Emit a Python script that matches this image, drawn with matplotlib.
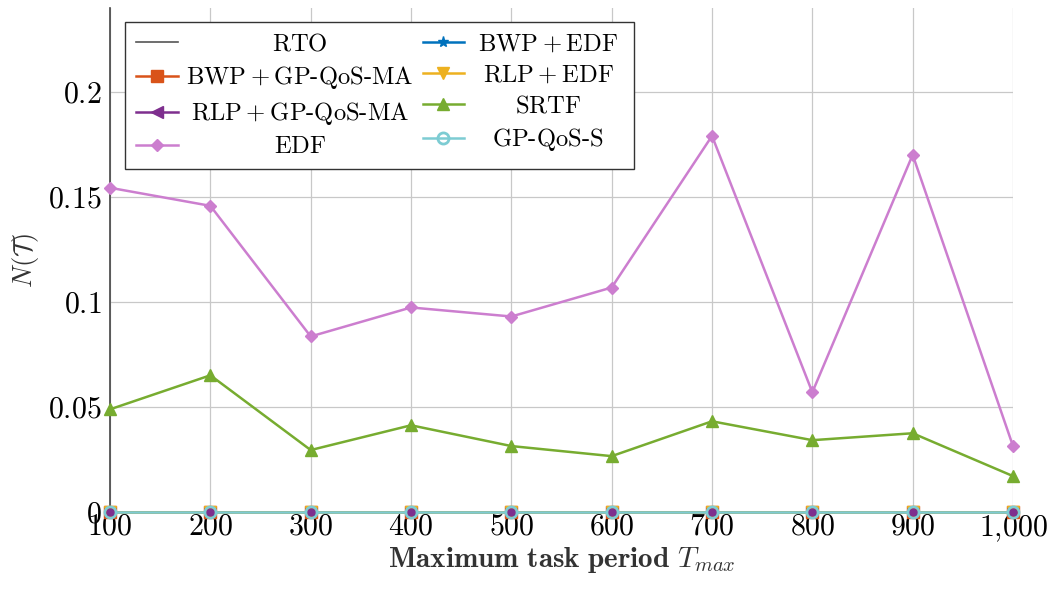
import matplotlib
matplotlib.use('Agg')
import matplotlib.pyplot as plt
from matplotlib.offsetbox import VPacker

plt.rcParams['font.family'] = 'serif'
plt.rcParams['font.serif'] = ['cmr10']
plt.rcParams['mathtext.fontset'] = 'cm'
plt.rcParams['axes.formatter.use_mathtext'] = True

# maximum task period
periods = [100, 200, 300, 400, 500, 600, 700, 800, 900, 1000]
xtick_labels = ['$100$', '$200$', '$300$', '$400$', '$500$', '$600$', '$700$', '$800$', '$900$', '$1{,}000$']
yticks = [0, 0.05, 0.1, 0.15, 0.2]
ytick_labels = ['$0$', '$0.05$', '$0.1$', '$0.15$', '$0.2$']

# N(T) per scheduler
rto = [0, 0, 0, 0, 0, 0, 0, 0, 0, 0]
bwp_edf = [0, 0, 0, 0, 0, 0, 0, 0, 0, 0]
bwp_gp = [0, 0, 0, 0, 0, 0, 0, 0, 0, 0]
rlp_edf = [0, 0, 0, 0, 0, 0, 0, 0, 0, 0]
rlp_gp = [0, 0, 0, 0, 0, 0, 0, 0, 0, 0]
srtf = [0.0489, 0.0651, 0.0295, 0.0413, 0.0314, 0.0266, 0.0432, 0.0342, 0.0375, 0.0171]
edf = [0.1544, 0.1458, 0.0836, 0.0974, 0.0931, 0.1069, 0.1791, 0.0570, 0.1701, 0.0314]
gp_qos_s = [0, 0, 0, 0, 0, 0, 0, 0, 0, 0]

# '+' gets a medium space on each side, like a binary operator;
# every label ends in an empty math group so all rows share the same metrics
plus = r'$\:$+$\:$'
end = r'${}$'

fig = plt.figure(figsize=(10.54, 5.90), dpi=100)
ax = fig.add_axes([0.1044, 0.1322, 0.8567, 0.8542])

lw = 1.8
h_rto, = ax.plot(periods, rto, color='#555555', lw=1.2, label='RTO' + end, clip_on=False, zorder=3)
h_bwp_gp, = ax.plot(periods, bwp_gp, color='#D95319', lw=lw, marker='s', ms=8,
                    label='BWP' + plus + 'GP-QoS-MA' + end, clip_on=False, zorder=3)
h_bwp_edf, = ax.plot(periods, bwp_edf, color='#0072BD', lw=lw, marker='*', ms=8,
                     label='BWP' + plus + 'EDF' + end, clip_on=False, zorder=3)
h_rlp_edf, = ax.plot(periods, rlp_edf, color='#EDB120', lw=lw, marker='v', ms=8,
                     label='RLP' + plus + 'EDF' + end, clip_on=False, zorder=3)
h_srtf, = ax.plot(periods, srtf, color='#77AC30', lw=lw, marker='^', ms=8,
                  label='SRTF' + end, clip_on=False, zorder=4)
h_edf, = ax.plot(periods, edf, color='#CC7ECF', lw=lw, marker='D', ms=6,
                 label='EDF' + end, clip_on=False, zorder=4)
h_gp_s, = ax.plot(periods, gp_qos_s, color='#7DCCD3', lw=lw, marker='o', ms=8,
                  mfc='none', mew=2, label='GP-QoS-S' + end, clip_on=False, zorder=5)
h_rlp_gp, = ax.plot(periods, rlp_gp, color='#7E2F8E', lw=0, marker='o', ms=5,
                    clip_on=False, zorder=6)
h_rlp_gp_leg, = ax.plot([], [], color='#7E2F8E', lw=lw, marker='<', ms=8,
                        label='RLP' + plus + 'GP-QoS-MA' + end)

ax.set_xlim(100, 1000)
ax.set_ylim(0, 0.24)
ax.set_xticks(periods)
ax.set_xticklabels(xtick_labels)
ax.set_yticks(yticks)
ax.set_yticklabels(ytick_labels)
ax.tick_params(axis='both', labelsize=21.5, length=0)
ax.tick_params(axis='y', pad=6)
ax.tick_params(axis='x', pad=1)
ax.grid(True, color='#c8c8c8', lw=0.9)
ax.set_axisbelow(True)
for s in ['top', 'right', 'bottom']:
    ax.spines[s].set_visible(False)
ax.spines['left'].set_color('#444444')
ax.spines['left'].set_linewidth(1.2)

ax.set_xlabel(r'$\mathbf{Maximum\ task\ period}\ T_{max}$', fontsize=21, color='#333333', labelpad=1)
ax.set_ylabel(r'$N(\mathcal{T})$', fontsize=19, color='#333333', labelpad=5)

handles = [h_rto, h_bwp_gp, h_rlp_gp_leg, h_edf, h_bwp_edf, h_rlp_edf, h_srtf, h_gp_s]
leg = ax.legend(handles=handles, ncol=2, loc='upper left', bbox_to_anchor=(0.0166, 0.972),
                fontsize=17.7, frameon=True, fancybox=False, framealpha=1, edgecolor='#333333',
                handlelength=1.7, handletextpad=0.35, columnspacing=0.35, labelspacing=0.36,
                borderpad=0.45, borderaxespad=0)
leg.get_frame().set_linewidth(1.0)
leg.set_zorder(10)

# centre the label text inside each legend column
renderer = fig.canvas.get_renderer()
cols = leg._legend_handle_box.get_children()
for i, col in enumerate(cols):
    rows = col.get_children()
    width = max(r.get_children()[1].get_bbox(renderer).width for r in rows)
    if i == len(cols) - 1:
        width += 10
    for r in rows:
        box = VPacker(pad=0, sep=0, width=width, align='center', children=[r.get_children()[1]])
        box.set_figure(fig)
        r._children[1] = box

plt.savefig('out.png', dpi=100)
